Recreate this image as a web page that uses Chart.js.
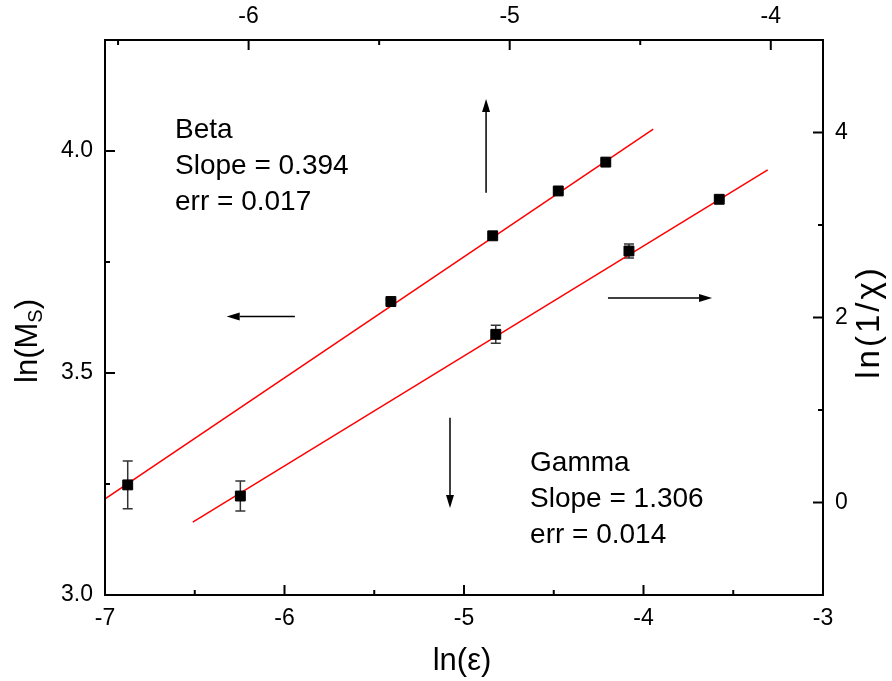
<!DOCTYPE html>
<html>
<head>
<meta charset="utf-8">
<script src="https://cdn.jsdelivr.net/npm/chart.js@4.4.1/dist/chart.umd.min.js"></script>
<style>
  html, body { margin: 0; padding: 0; background: #fff; }
  #wrap { width: 892px; height: 681px; }
</style>
</head>
<body>
<div id="wrap"><canvas id="critChart" width="892" height="681"></canvas></div>
<script>
// Beta: ln(Ms) vs ln(eps) below Tc  (top x axis, left y axis)
const betaEps = [-6.463, -5.455, -5.065, -4.814, -4.632];
const betaLnMs = [3.248, 3.661, 3.809, 3.910, 3.975];
const betaErr = [0.054, 0.004, 0.004, 0.004, 0.004];
const betaFitX = [-6.551, -4.450];
const betaFitY = [3.216, 4.049];

// Gamma: ln(1/chi) vs ln(eps) above Tc  (bottom x axis, right y axis)
const gammaEps = [-6.246, -4.823, -4.081, -3.578];
const gammaLnChi = [0.070, 1.818, 2.719, 3.278];
const gammaErr = [0.162, 0.097, 0.076, 0.02];
const gammaFitX = [-6.511, -3.308];
const gammaFitY = [-0.211, 3.595];

// axis ticks
const bottomTicks = [-7, -6, -5, -4, -3];
const bottomMinor = [-6.5, -5.5, -4.5, -3.5];
const topTicks = [-6, -5, -4];
const topMinor = [-6.5, -5.5, -4.5];
const leftTicks = [3.0, 3.5, 4.0];
const leftMinor = [3.25, 3.75];
const rightTicks = [0, 2, 4];
const rightMinor = [1, 3];

// text notes and arrows, placed on bottom x / left y values
const noteText = ["Beta", "Slope = 0.394", "err = 0.017", "Gamma", "Slope = 1.306", "err = 0.014"];
const noteX = [-6.61, -6.61, -6.61, -4.632, -4.632, -4.632];
const noteY = [4.029, 3.948, 3.867, 3.279, 3.198, 3.117];
const arrowFromX = [-5.942, -4.877, -5.078, -4.198];
const arrowFromY = [3.627, 3.906, 3.399, 3.669];
const arrowToX = [-6.322, -4.877, -5.078, -3.618];
const arrowToY = [3.627, 4.117, 3.196, 3.669];

const FONT = "'Liberation Sans', Arial, Helvetica, sans-serif";
Chart.defaults.font.family = FONT;
Chart.defaults.font.size = 23;
Chart.defaults.color = "#000";

const toPoints = (xs, ys) => xs.map((x, i) => ({ x: x, y: ys[i] }));

// error bars drawn under the squares
const errorBars = {
  id: "errorBars",
  beforeDatasetsDraw(chart) {
    const ctx = chart.ctx;
    ctx.save();
    ctx.strokeStyle = "#333";
    ctx.lineWidth = 1.5;
    chart.data.datasets.forEach(ds => {
      if (!ds.errors) return;
      const xs = chart.scales[ds.xAxisID], ys = chart.scales[ds.yAxisID];
      ds.data.forEach((p, i) => {
        const px = xs.getPixelForValue(p.x);
        const top = ys.getPixelForValue(p.y + ds.errors[i]);
        const bot = ys.getPixelForValue(p.y - ds.errors[i]);
        ctx.beginPath();
        ctx.moveTo(px, top); ctx.lineTo(px, bot);
        ctx.moveTo(px - 5, top); ctx.lineTo(px + 5, top);
        ctx.moveTo(px - 5, bot); ctx.lineTo(px + 5, bot);
        ctx.stroke();
      });
    });
    ctx.restore();
  }
};

// frame, inward ticks, axis titles, notes and arrows
const frameAndNotes = {
  id: "frameAndNotes",
  afterDraw(chart) {
    const ctx = chart.ctx;
    const a = chart.chartArea;
    const s = chart.scales;
    ctx.save();
    ctx.strokeStyle = "#000";
    ctx.lineWidth = 2;
    ctx.strokeRect(a.left, a.top, a.right - a.left, a.bottom - a.top);

    const tickX = (scale, vals, len, yEdge, dir) => vals.forEach(v => {
      const px = scale.getPixelForValue(v);
      ctx.beginPath(); ctx.moveTo(px, yEdge); ctx.lineTo(px, yEdge + dir * len); ctx.stroke();
    });
    const tickY = (scale, vals, len, xEdge, dir) => vals.forEach(v => {
      const py = scale.getPixelForValue(v);
      ctx.beginPath(); ctx.moveTo(xEdge, py); ctx.lineTo(xEdge + dir * len, py); ctx.stroke();
    });
    tickX(s.x, bottomTicks, 10, a.bottom, -1);
    tickX(s.x, bottomMinor, 5, a.bottom, -1);
    tickX(s.xTop, topTicks, 10, a.top, 1);
    tickX(s.xTop, topMinor, 5, a.top, 1);
    tickY(s.y, leftTicks, 10, a.left, 1);
    tickY(s.y, leftMinor, 5, a.left, 1);
    tickY(s.yRight, rightTicks, 10, a.right, -1);
    tickY(s.yRight, rightMinor, 5, a.right, -1);

    // axis titles
    ctx.fillStyle = "#000";
    ctx.textBaseline = "alphabetic";
    ctx.font = "31px " + FONT;
    ctx.textAlign = "center";
    ctx.fillText("ln(\u03B5)", 462, 670);

    ctx.save();
    ctx.translate(37, 341);
    ctx.rotate(-Math.PI / 2);
    const main = "ln(M", sub = "S", close = ")";
    ctx.font = "31px " + FONT;
    const w1 = ctx.measureText(main).width, w3 = ctx.measureText(close).width;
    ctx.font = "20px " + FONT;
    const w2 = ctx.measureText(sub).width;
    const x0 = -(w1 + w2 + w3) / 2;
    ctx.textAlign = "left";
    ctx.font = "31px " + FONT;
    ctx.fillText(main, x0, 0);
    ctx.font = "20px " + FONT;
    ctx.fillText(sub, x0 + w1, 5);
    ctx.font = "31px " + FONT;
    ctx.fillText(close, x0 + w1 + w2, 0);
    ctx.restore();

    ctx.save();
    ctx.translate(879, 322);
    ctx.rotate(-Math.PI / 2);
    ctx.font = "33px " + FONT;
    ctx.letterSpacing = "3px";
    ctx.textAlign = "center";
    ctx.fillText("ln(1/\u03C7)", 0, 0);
    ctx.restore();

    // notes
    ctx.font = "28px " + FONT;
    ctx.textAlign = "left";
    noteText.forEach((t, i) => {
      ctx.fillText(t, s.x.getPixelForValue(noteX[i]), s.y.getPixelForValue(noteY[i]));
    });

    // arrows
    ctx.lineWidth = 1.5;
    arrowFromX.forEach((fx, i) => {
      const x1 = s.x.getPixelForValue(fx), y1 = s.y.getPixelForValue(arrowFromY[i]);
      const x2 = s.x.getPixelForValue(arrowToX[i]), y2 = s.y.getPixelForValue(arrowToY[i]);
      const ang = Math.atan2(y2 - y1, x2 - x1);
      const hl = 13, hw = 4;
      const bx = x2 - hl * Math.cos(ang), by = y2 - hl * Math.sin(ang);
      ctx.beginPath(); ctx.moveTo(x1, y1); ctx.lineTo(bx, by); ctx.stroke();
      ctx.beginPath();
      ctx.moveTo(x2, y2);
      ctx.lineTo(bx + hw * Math.sin(ang), by - hw * Math.cos(ang));
      ctx.lineTo(bx - hw * Math.sin(ang), by + hw * Math.cos(ang));
      ctx.closePath();
      ctx.fill();
    });
    ctx.restore();
  }
};

const tickFont = { family: FONT, size: 23 };
const fixTicks = vals => scale => { scale.ticks = vals.map(v => ({ value: v })); };

new Chart(document.getElementById("critChart").getContext("2d"), {
  type: "scatter",
  data: {
    datasets: [
      {
        label: "Beta",
        data: toPoints(betaEps, betaLnMs),
        errors: betaErr,
        xAxisID: "xTop", yAxisID: "y",
        pointStyle: "rect", pointRadius: 7, backgroundColor: "#000", borderColor: "#000",
        order: 0
      },
      {
        label: "Gamma",
        data: toPoints(gammaEps, gammaLnChi),
        errors: gammaErr,
        xAxisID: "x", yAxisID: "yRight",
        pointStyle: "rect", pointRadius: 7, backgroundColor: "#000", borderColor: "#000",
        order: 0
      },
      {
        type: "line", label: "Beta fit",
        data: toPoints(betaFitX, betaFitY),
        xAxisID: "xTop", yAxisID: "y",
        borderColor: "#ff0000", borderWidth: 1.5, pointRadius: 0, fill: false,
        order: 1
      },
      {
        type: "line", label: "Gamma fit",
        data: toPoints(gammaFitX, gammaFitY),
        xAxisID: "x", yAxisID: "yRight",
        borderColor: "#ff0000", borderWidth: 1.5, pointRadius: 0, fill: false,
        order: 1
      }
    ]
  },
  options: {
    responsive: false,
    animation: false,
    devicePixelRatio: 1,
    layout: { padding: 0 },
    plugins: { legend: { display: false }, tooltip: { enabled: false } },
    scales: {
      x: {
        type: "linear", position: "bottom", min: -7, max: -3,
        afterBuildTicks: fixTicks(bottomTicks),
        afterFit: sc => { sc.height = 86; },
        grid: { display: false, drawTicks: false }, border: { display: false },
        ticks: { font: tickFont, padding: 10, maxRotation: 0 }
      },
      xTop: {
        type: "linear", position: "top", min: -6.55, max: -3.8,
        afterBuildTicks: fixTicks(topTicks),
        afterFit: sc => { sc.height = 40; },
        grid: { display: false, drawTicks: false }, border: { display: false },
        ticks: { font: tickFont, padding: 10, maxRotation: 0 }
      },
      y: {
        type: "linear", position: "left", min: 3.0, max: 4.25,
        afterBuildTicks: fixTicks(leftTicks),
        afterFit: sc => { sc.width = 105; },
        grid: { display: false, drawTicks: false }, border: { display: false },
        ticks: { font: tickFont, padding: 12, callback: v => v.toFixed(1) }
      },
      yRight: {
        type: "linear", position: "right", min: -1, max: 5,
        afterBuildTicks: fixTicks(rightTicks),
        afterFit: sc => { sc.width = 69; },
        grid: { display: false, drawTicks: false }, border: { display: false },
        ticks: { font: tickFont, padding: 12 }
      }
    }
  },
  plugins: [errorBars, frameAndNotes]
});
</script>
</body>
</html>
